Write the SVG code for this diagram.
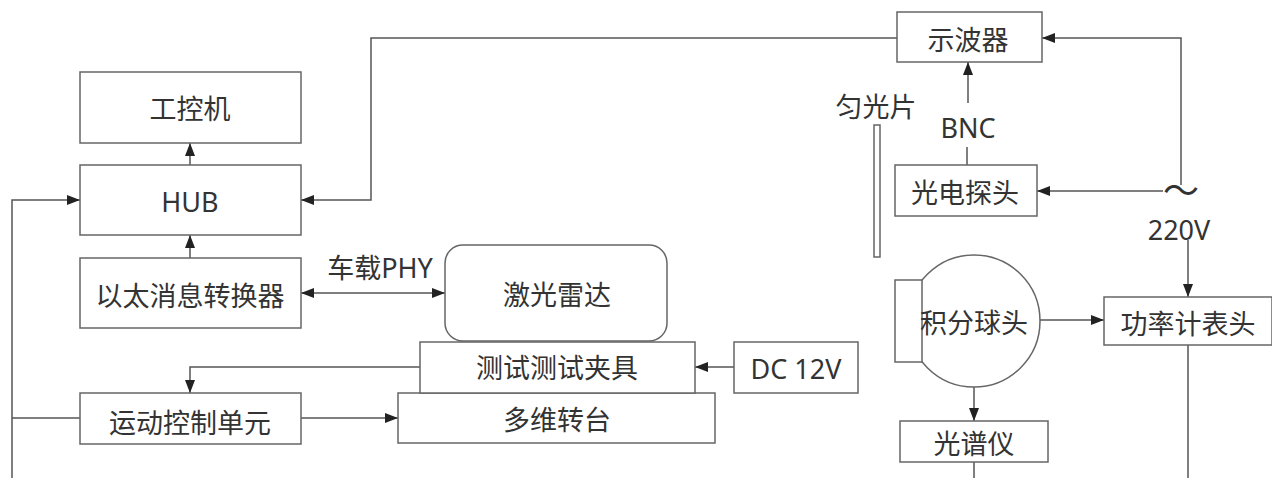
<svg xmlns="http://www.w3.org/2000/svg" width="1272" height="478" viewBox="0 0 1272 478">
<style>
.box{fill:#fff;stroke:#666;stroke-width:1.5}
.ln{fill:none;stroke:#555;stroke-width:1.5}
.t{font-family:"Noto Sans","Noto Sans CJK SC",sans-serif;font-size:27px;fill:#333;text-anchor:middle;dominant-baseline:central}
</style>
<defs>
<marker id="ah" viewBox="0 0 13 10" refX="13" refY="5" markerWidth="13" markerHeight="10" markerUnits="userSpaceOnUse" orient="auto-start-reverse">
<path d="M0,0 L13,5 L0,10 Z" fill="#222"/>
</marker>
</defs>
<rect width="1272" height="478" fill="#fff"/>
<g id="connectors">
<path class="ln" d="M190,165 V143" marker-end="url(#ah)"/>
<path class="ln" d="M190,258 V235" marker-end="url(#ah)"/>
<path class="ln" d="M12,478 V200 H80" marker-end="url(#ah)"/>
<path class="ln" d="M12,418 H80"/>
<path class="ln" d="M897,38 H371 V200 H301" marker-end="url(#ah)"/>
<path class="ln" d="M301,293 H445" marker-start="url(#ah)" marker-end="url(#ah)"/>
<path class="ln" d="M420,367 H190 V393" marker-end="url(#ah)"/>
<path class="ln" d="M301,418 H398" marker-end="url(#ah)"/>
<path class="ln" d="M734,367 H695" marker-end="url(#ah)"/>
<path class="ln" d="M967,165 V147"/>
<path class="ln" d="M968,103 V62" marker-end="url(#ah)"/>
<path class="ln" d="M1181,185 V38 H1042" marker-end="url(#ah)"/>
<path class="ln" d="M1163,191 H1037" marker-end="url(#ah)"/>
<path class="ln" d="M1188,240 V297" marker-end="url(#ah)"/>
<path class="ln" d="M1040,320 H1104" marker-end="url(#ah)"/>
<path class="ln" d="M974,387 V421" marker-end="url(#ah)"/>
<path class="ln" d="M1188,345 V478"/>
<path class="ln" d="M974,462 V478"/>
</g>
<g id="n-gongkongji"><rect class="box" x="80" y="72" width="221" height="71"/><text class="t" x="190" y="108">工控机</text></g>
<g id="n-hub"><rect class="box" x="80" y="165" width="221" height="70"/><text class="t" x="190" y="201">HUB</text></g>
<g id="n-yitai"><rect class="box" x="80" y="258" width="221" height="70"/><text class="t" x="190" y="295">以太消息转换器</text></g>
<g id="n-yundong"><rect class="box" x="80" y="393" width="221" height="51"/><text class="t" x="190" y="422">运动控制单元</text></g>
<g id="l-phy"><text class="t" x="380" y="267">车载PHY</text></g>
<g id="n-jiguang"><rect class="box" x="445" y="245" width="222" height="96" rx="18"/><text class="t" x="557" y="294">激光雷达</text></g>
<g id="n-zhuantai"><rect class="box" x="398" y="393" width="317" height="50"/><text class="t" x="557" y="419">多维转台</text></g>
<g id="n-jiaju"><rect class="box" x="420" y="342" width="275" height="51"/><text class="t" x="557" y="367">测试测试夹具</text></g>
<g id="n-dc"><rect class="box" x="734" y="342" width="124" height="51"/><text class="t" x="796" y="368">DC 12V</text></g>
<g id="n-shiboqi"><rect class="box" x="897" y="12" width="145" height="50"/><text class="t" x="968" y="39">示波器</text></g>
<g id="l-bnc"><text class="t" x="968" y="127">BNC</text></g>
<g id="n-tance"><rect class="box" x="895" y="165" width="142" height="51"/><text class="t" x="965" y="192">光电探头</text></g>
<g id="n-yunguang"><text class="t" x="876" y="106">匀光片</text><rect class="box" x="874" y="125" width="6" height="132"/></g>
<g id="l-220"><text class="t" x="1181" y="188" style="font-family:'Noto Sans CJK SC',sans-serif;font-size:36px">〜</text><text class="t" x="1179" y="229">220V</text></g>
<g id="n-jifenqiu"><circle class="box" cx="974" cy="321" r="66"/><rect class="box" x="895" y="280" width="27" height="82"/><text class="t" x="974" y="322" font-size="26px">积分球头</text></g>
<g id="n-gonglvji"><rect class="box" x="1104" y="297" width="168" height="48"/><text class="t" x="1188" y="323">功率计表头</text></g>
<g id="n-guangpuyi"><rect class="box" x="900" y="421" width="148" height="41"/><text class="t" x="974" y="443">光谱仪</text></g>
</svg>
